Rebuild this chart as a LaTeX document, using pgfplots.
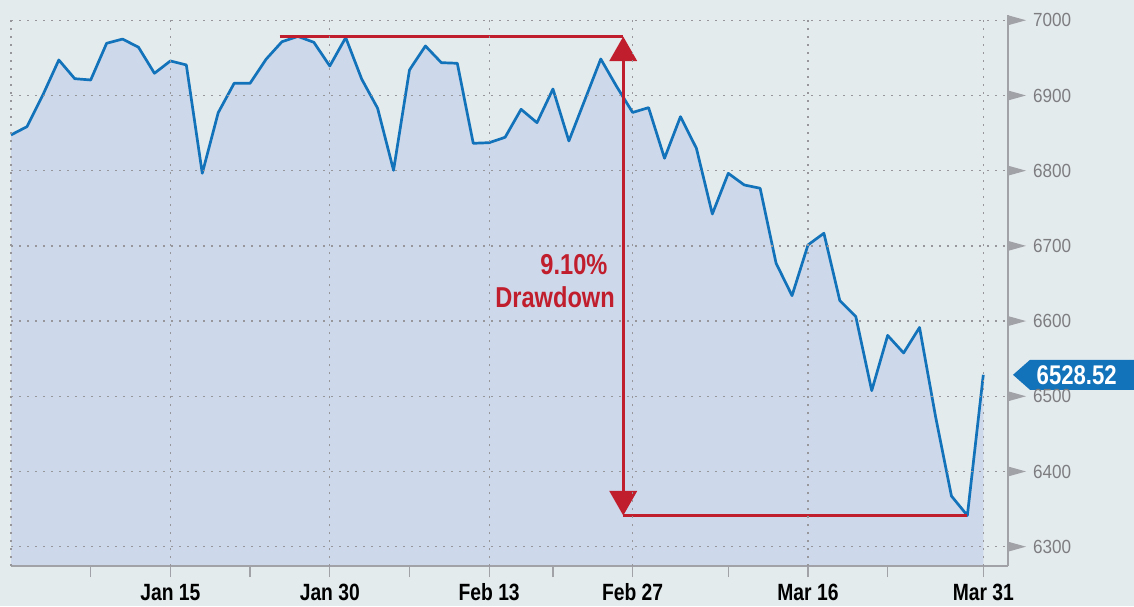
\documentclass[border=0pt]{standalone}
\usepackage{fontspec}
\setmainfont{Liberation Sans}
\newfontfamily\boldnarrow[FakeStretch=0.82]{Liberation Sans}
\newfontfamily\ticknarrow[FakeStretch=0.9]{Liberation Sans}
\usepackage{pgfplots}
\pgfplotsset{compat=1.18}

\definecolor{bgc}{RGB}{228,235,237}
\definecolor{areac}{RGB}{205,216,235}
\definecolor{lineblue}{RGB}{18,114,186}
\definecolor{ddred}{RGB}{193,30,45}
\definecolor{axisgray}{RGB}{160,162,168}
\definecolor{tickgray}{RGB}{125,125,128}
\definecolor{gridc}{RGB}{150,150,155}

% trading day index (0 = Dec 31) and close
\pgfplotstableread{
i v
0 6847.5
1 6858.5
2 6900.7
3 6947.2
4 6922.3
5 6920.6
6 6969.4
7 6975.0
8 6964.1
9 6929.5
10 6945.9
11 6940.6
12 6796.5
13 6877.1
14 6916.2
15 6916.2
16 6948.1
17 6971.5
18 6978.5
19 6970.7
20 6939.2
21 6977.0
22 6921.9
23 6883.0
24 6800.5
25 6933.9
26 6965.8
27 6943.6
28 6942.8
29 6836.4
30 6837.2
31 6844.4
32 6881.6
33 6863.8
34 6908.6
35 6839.5
36 6894.0
37 6948.5
38 6911.8
39 6877.4
40 6883.8
41 6816.5
42 6871.8
43 6829.8
44 6742.4
45 6796.5
46 6781.0
47 6776.6
48 6676.9
49 6633.8
50 6701.2
51 6716.8
52 6627.1
53 6606.1
54 6507.5
55 6580.9
56 6557.6
57 6591.5
58 6473.6
59 6367.4
60 6341.5
61 6528.52
}\closes

\begin{document}
\begin{tikzpicture}[x=1pt,y=1pt]
\fill[bgc] (0,0) rectangle (1134,606);
\useasboundingbox (0,0) rectangle (1134,606);
\begin{axis}[
    at={(11pt,40pt)}, anchor=south west,
    scale only axis, width=997pt, height=551pt,
    xmin=0, xmax=62.55, ymin=6274.3, ymax=7007,
    axis line style={draw=none},
    axis on top, clip=false,
    xtick={5,10,15,20,25,30,34,39,45,50,55,61},
    xticklabels={,Jan 15,,Jan 30,,Feb 13,,Feb 27,,Mar 16,,Mar 31},
    xtick pos=bottom, tick align=outside, major tick length=11pt,
    xtick style={draw=axisgray, line width=1.3pt},
    x tick label style={font=\boldnarrow\bfseries\fontsize{23.5}{23.5}\selectfont,
        text=black, anchor=base, inner sep=0pt, yshift=-23pt},
    extra x ticks={0,10,20,30,39,50,61},
    extra x tick labels={},
    extra x tick style={grid=major, major tick length=0pt},
    ytick={6300,6400,...,7000},
    ytick pos=right, yticklabel pos=right,
    ytick style={draw=none},
    y tick label style={font=\ticknarrow\fontsize{19}{19}\selectfont,
        text=tickgray, anchor=west, inner sep=0pt, xshift=14pt},
    ymajorgrids,
    grid style={draw=gridc, line width=1.3pt, dash pattern=on 2pt off 6pt},
    /pgf/number format/assume math mode=true,
    /pgf/number format/set thousands separator={},
]
\addplot[draw=none, fill=areac] table[x=i, y=v] {\closes} \closedcycle;
\addplot[lineblue, line width=2.7pt, line join=round] table[x=i, y=v] {\closes};

% axis lines and arrow-shaped y ticks
\draw[axisgray, line width=1.3pt] (rel axis cs:0,0) -- (rel axis cs:1,0);
\draw[axisgray, line width=2pt] (rel axis cs:1,0) -- (rel axis cs:1,1);
\pgfplotsinvokeforeach{6300,6400,...,7000}{
  \fill[axisgray] (axis cs:62.55,#1) ++(0pt,5pt) -- ++(18pt,-5pt) -- ++(-18pt,-5pt) -- cycle;
}

% drawdown annotation
\draw[ddred, line width=2.7pt] (axis cs:16.85,6978.3) -- (axis cs:38.41,6978.3);
\draw[ddred, line width=2.7pt] (axis cs:38.41,6341.5) -- (axis cs:60,6341.5);
\draw[ddred, line width=2.7pt] (axis cs:38.41,6970) -- (axis cs:38.41,6350);
\fill[ddred] (axis cs:38.41,6978.3) -- ++(-14pt,-24.5pt) -- ++(28pt,0pt) -- cycle;
\fill[ddred] (axis cs:38.41,6341.5) -- ++(-14pt,24.5pt) -- ++(28pt,0pt) -- cycle;
\node[anchor=base east, inner sep=0pt, text=ddred,
      font=\boldnarrow\bfseries\fontsize{28.8}{28.8}\selectfont] at (axis cs:37.43,6661.3) {9.10\%};
\node[anchor=base east, inner sep=0pt, text=ddred,
      font=\boldnarrow\bfseries\fontsize{28.8}{28.8}\selectfont] at (axis cs:37.89,6618.7) {Drawdown};

% last value tag
\coordinate (v) at (axis cs:62.55,6528.52);
\fill[lineblue] ([xshift=5pt]v) -- ([xshift=22pt,yshift=15pt]v) -- ([xshift=135pt,yshift=15pt]v)
   -- ([xshift=135pt,yshift=-15pt]v) -- ([xshift=22pt,yshift=-15pt]v) -- cycle;
\node[inner sep=0pt, text=white, font=\boldnarrow\bfseries\fontsize{27}{27}\selectfont]
   at ([xshift=68.7pt,yshift=-0.5pt]v) {6528.52};
\end{axis}
\end{tikzpicture}
\end{document}
